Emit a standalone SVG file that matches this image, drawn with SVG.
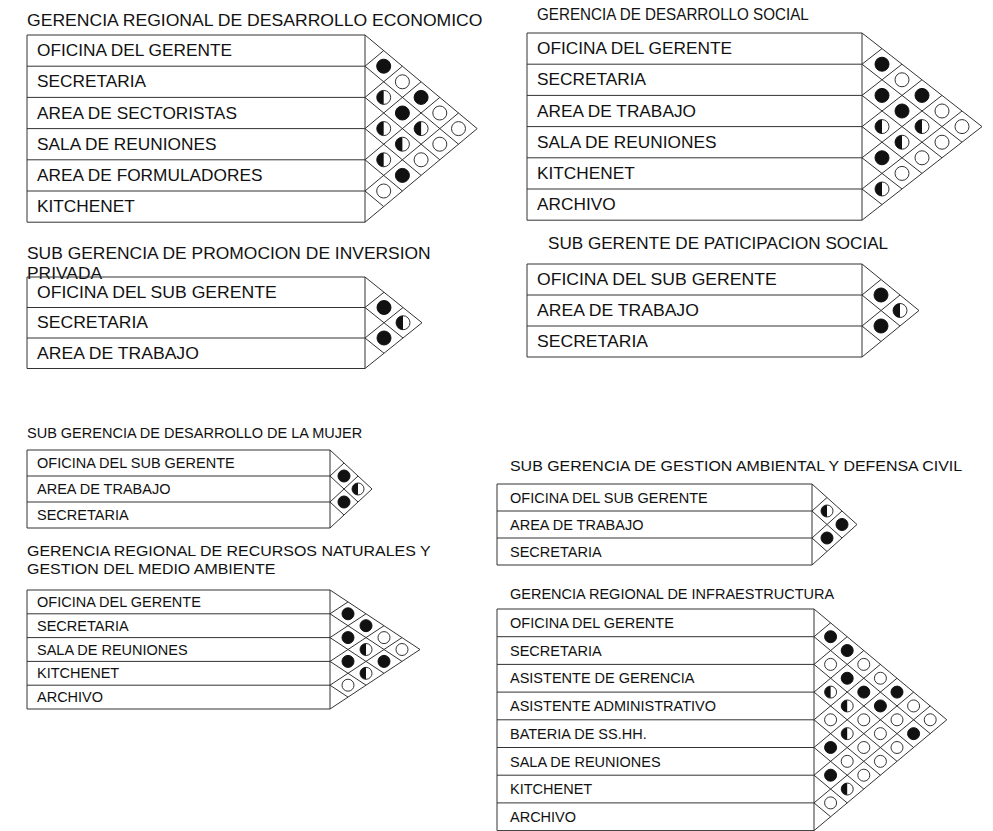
<svg xmlns="http://www.w3.org/2000/svg" width="993" height="831" viewBox="0 0 993 831">
<style>
.t{font-family:"Liberation Sans",Arial,sans-serif;fill:#111}
.big{font-size:16px}
.sm{font-size:14.5px}
.box{fill:none;stroke:#333;stroke-width:1}
.grid{fill:none;stroke:#333;stroke-width:1;vector-effect:non-scaling-stroke}
.f{fill:#111;stroke:#111;stroke-width:1;vector-effect:non-scaling-stroke}
.e{fill:#fff;stroke:#333;stroke-width:1;vector-effect:non-scaling-stroke}
.h{fill:#111;stroke:none}
</style>
<rect width="993" height="831" fill="#fff"/>

<g id="b1">
<text class="t big" x="27" y="26" transform="matrix(1.1,0,0,1,-2.7,0)">GERENCIA REGIONAL DE DESARROLLO ECONOMICO</text>
<path class="box" d="M27 35H365V222.2H27Z M27 66.2H365 M27 97.4H365 M27 128.6H365 M27 159.8H365 M27 191H365"/>
<g transform="matrix(1.08,0,0,1,-2.96,0)">
<text class="t big" x="37" y="56.2">OFICINA DEL GERENTE</text>
<text class="t big" x="37" y="87.4">SECRETARIA</text>
<text class="t big" x="37" y="118.6">AREA DE SECTORISTAS</text>
<text class="t big" x="37" y="149.8">SALA DE REUNIONES</text>
<text class="t big" x="37" y="181">AREA DE FORMULADORES</text>
<text class="t big" x="37" y="212.2">KITCHENET</text>
</g>
<g transform="translate(365,35) scale(18.7,15.6)">
<path class="grid" d="M0 0L6 6L0 12M0 2L5 7M0 2L1 1M0 4L4 8M0 4L2 2M0 6L3 9M0 6L3 3M0 8L2 10M0 8L4 4M0 10L1 11M0 10L5 5"/>
<ellipse class="f" cx="1" cy="2" rx=".374" ry=".449"/>
<ellipse class="f" cx="2" cy="5" rx=".374" ry=".449"/>
<ellipse class="f" cx="3" cy="4" rx=".374" ry=".449"/>
<ellipse class="f" cx="2" cy="9" rx=".374" ry=".449"/>
<ellipse class="e" cx="1" cy="4" rx=".374" ry=".449"/><path class="h" d="M1 3.551A.374 .449 0 0 0 1 4.449Z"/>
<ellipse class="e" cx="1" cy="6" rx=".374" ry=".449"/><path class="h" d="M1 5.551A.374 .449 0 0 0 1 6.449Z"/>
<ellipse class="e" cx="1" cy="8" rx=".374" ry=".449"/><path class="h" d="M1 7.551A.374 .449 0 0 0 1 8.449Z"/>
<ellipse class="e" cx="2" cy="7" rx=".374" ry=".449"/><path class="h" d="M2 6.551A.374 .449 0 0 0 2 7.449Z"/>
<ellipse class="e" cx="3" cy="6" rx=".374" ry=".449"/><path class="h" d="M3 5.551A.374 .449 0 0 0 3 6.449Z"/>
<ellipse class="e" cx="1" cy="10" rx=".374" ry=".449"/>
<ellipse class="e" cx="2" cy="3" rx=".374" ry=".449"/>
<ellipse class="e" cx="3" cy="8" rx=".374" ry=".449"/>
<ellipse class="e" cx="4" cy="5" rx=".374" ry=".449"/>
<ellipse class="e" cx="4" cy="7" rx=".374" ry=".449"/>
<ellipse class="e" cx="5" cy="6" rx=".374" ry=".449"/>
</g>
</g>

<g id="b2">
<text class="t big" x="537" y="20" transform="matrix(0.95,0,0,1,26.85,0)">GERENCIA DE DESARROLLO SOCIAL</text>
<path class="box" d="M527 33H862V220.2H527Z M527 64.2H862 M527 95.4H862 M527 126.6H862 M527 157.8H862 M527 189H862"/>
<g transform="matrix(1.08,0,0,1,-42.96,0)">
<text class="t big" x="537" y="54.2">OFICINA DEL GERENTE</text>
<text class="t big" x="537" y="85.4">SECRETARIA</text>
<text class="t big" x="537" y="116.6">AREA DE TRABAJO</text>
<text class="t big" x="537" y="147.8">SALA DE REUNIONES</text>
<text class="t big" x="537" y="179">KITCHENET</text>
<text class="t big" x="537" y="210.2">ARCHIVO</text>
</g>
<g transform="translate(862,33) scale(20,15.6)">
<path class="grid" d="M0 0L6 6L0 12M0 2L5 7M0 2L1 1M0 4L4 8M0 4L2 2M0 6L3 9M0 6L3 3M0 8L2 10M0 8L4 4M0 10L1 11M0 10L5 5"/>
<ellipse class="f" cx="1" cy="2" rx=".35" ry=".449"/>
<ellipse class="f" cx="1" cy="4" rx=".35" ry=".449"/>
<ellipse class="f" cx="1" cy="8" rx=".35" ry=".449"/>
<ellipse class="f" cx="2" cy="5" rx=".35" ry=".449"/>
<ellipse class="f" cx="3" cy="4" rx=".35" ry=".449"/>
<ellipse class="e" cx="1" cy="6" rx=".35" ry=".449"/><path class="h" d="M1 5.551A.35 .449 0 0 0 1 6.449Z"/>
<ellipse class="e" cx="1" cy="10" rx=".35" ry=".449"/><path class="h" d="M1 9.551A.35 .449 0 0 0 1 10.449Z"/>
<ellipse class="e" cx="2" cy="7" rx=".35" ry=".449"/><path class="h" d="M2 6.551A.35 .449 0 0 0 2 7.449Z"/>
<ellipse class="e" cx="3" cy="6" rx=".35" ry=".449"/><path class="h" d="M3 5.551A.35 .449 0 0 0 3 6.449Z"/>
<ellipse class="e" cx="2" cy="3" rx=".35" ry=".449"/>
<ellipse class="e" cx="2" cy="9" rx=".35" ry=".449"/>
<ellipse class="e" cx="3" cy="8" rx=".35" ry=".449"/>
<ellipse class="e" cx="4" cy="5" rx=".35" ry=".449"/>
<ellipse class="e" cx="4" cy="7" rx=".35" ry=".449"/>
<ellipse class="e" cx="5" cy="6" rx=".35" ry=".449"/>
</g>
</g>

<g id="b3">
<g transform="matrix(1.09,0,0,1,-2.43,0)">
<text class="t big" x="27" y="259">SUB GERENCIA DE PROMOCION DE INVERSION</text>
<text class="t big" x="27" y="279">PRIVADA</text>
</g>
<path class="box" d="M27 277H365V368.5H27Z M27 307.5H365 M27 338H365"/>
<g transform="matrix(1.1,0,0,1,-3.7,0)">
<text class="t big" x="37" y="297.9">OFICINA DEL SUB GERENTE</text>
<text class="t big" x="37" y="328.4">SECRETARIA</text>
<text class="t big" x="37" y="358.9">AREA DE TRABAJO</text>
</g>
<g transform="translate(365,277) scale(19,15.25)">
<path class="grid" d="M0 0L3 3L0 6M0 2L2 4M0 2L1 1M0 4L1 5M0 4L2 2"/>
<ellipse class="f" cx="1" cy="2" rx=".368" ry=".459"/>
<ellipse class="f" cx="1" cy="4" rx=".368" ry=".459"/>
<ellipse class="e" cx="2" cy="3" rx=".368" ry=".459"/><path class="h" d="M2 2.541A.368 .459 0 0 0 2 3.459Z"/>
</g>
</g>

<g id="b4">
<text class="t big" x="548" y="249" transform="matrix(1.07,0,0,1,-38.36,0)">SUB GERENTE DE PATICIPACION SOCIAL</text>
<path class="box" d="M527 264H862V357H527Z M527 295H862 M527 326H862"/>
<g transform="matrix(1.1,0,0,1,-53.7,0)">
<text class="t big" x="537" y="285.1">OFICINA DEL SUB GERENTE</text>
<text class="t big" x="537" y="316.1">AREA DE TRABAJO</text>
<text class="t big" x="537" y="347.1">SECRETARIA</text>
</g>
<g transform="translate(862,264) scale(19,15.5)">
<path class="grid" d="M0 0L3 3L0 6M0 2L2 4M0 2L1 1M0 4L1 5M0 4L2 2"/>
<ellipse class="f" cx="1" cy="2" rx=".368" ry=".452"/>
<ellipse class="f" cx="1" cy="4" rx=".368" ry=".452"/>
<ellipse class="e" cx="2" cy="3" rx=".368" ry=".452"/><path class="h" d="M2 2.548A.368 .452 0 0 0 2 3.452Z"/>
</g>
</g>

<g id="b5">
<text class="t sm" x="27" y="438">SUB GERENCIA DE DESARROLLO DE LA MUJER</text>
<path class="box" d="M27 450H330V528H27Z M27 476H330 M27 502H330"/>
<text class="t sm" x="37" y="468.1">OFICINA DEL SUB GERENTE</text>
<text class="t sm" x="37" y="494.1">AREA DE TRABAJO</text>
<text class="t sm" x="37" y="520.1">SECRETARIA</text>
<g transform="translate(330,450) scale(14,13)">
<path class="grid" d="M0 0L3 3L0 6M0 2L2 4M0 2L1 1M0 4L1 5M0 4L2 2"/>
<ellipse class="f" cx="1" cy="2" rx=".429" ry=".462"/>
<ellipse class="f" cx="1" cy="4" rx=".429" ry=".462"/>
<ellipse class="e" cx="2" cy="3" rx=".429" ry=".462"/><path class="h" d="M2 2.538A.429 .462 0 0 0 2 3.462Z"/>
</g>
</g>

<g id="b6">
<text class="t sm" x="510" y="471" transform="matrix(1.1,0,0,1,-51,0)">SUB GERENCIA DE GESTION AMBIENTAL Y DEFENSA CIVIL</text>
<path class="box" d="M497 484H812V565H497Z M497 511H812 M497 538H812"/>
<text class="t sm" x="510" y="502.6">OFICINA DEL SUB GERENTE</text>
<text class="t sm" x="510" y="529.6">AREA DE TRABAJO</text>
<text class="t sm" x="510" y="556.6">SECRETARIA</text>
<g transform="translate(812,484) scale(15,13.5)">
<path class="grid" d="M0 0L3 3L0 6M0 2L2 4M0 2L1 1M0 4L1 5M0 4L2 2"/>
<ellipse class="e" cx="1" cy="2" rx=".4" ry=".444"/><path class="h" d="M1 1.556A.4 .444 0 0 0 1 2.444Z"/>
<ellipse class="f" cx="1" cy="4" rx=".4" ry=".444"/>
<ellipse class="f" cx="2" cy="3" rx=".4" ry=".444"/>
</g>
</g>

<g id="b7">
<g transform="matrix(1.1,0,0,1,-2.7,0)">
<text class="t sm" x="27" y="556">GERENCIA REGIONAL DE RECURSOS NATURALES Y</text>
<text class="t sm" x="27" y="574">GESTION DEL MEDIO AMBIENTE</text>
</g>
<path class="box" d="M27 590H330V709H27Z M27 613.8H330 M27 637.6H330 M27 661.4H330 M27 685.2H330"/>
<text class="t sm" x="37" y="607">OFICINA DEL GERENTE</text>
<text class="t sm" x="37" y="630.8">SECRETARIA</text>
<text class="t sm" x="37" y="654.6">SALA DE REUNIONES</text>
<text class="t sm" x="37" y="678.4">KITCHENET</text>
<text class="t sm" x="37" y="702.2">ARCHIVO</text>
<g transform="translate(330,590) scale(18,11.9)">
<path class="grid" d="M0 0L5 5L0 10M0 2L4 6M0 2L1 1M0 4L3 7M0 4L2 2M0 6L2 8M0 6L3 3M0 8L1 9M0 8L4 4"/>
<ellipse class="f" cx="1" cy="2" rx=".333" ry=".504"/>
<ellipse class="f" cx="1" cy="4" rx=".333" ry=".504"/>
<ellipse class="f" cx="1" cy="6" rx=".333" ry=".504"/>
<ellipse class="f" cx="2" cy="3" rx=".333" ry=".504"/>
<ellipse class="f" cx="3" cy="6" rx=".333" ry=".504"/>
<ellipse class="e" cx="2" cy="5" rx=".333" ry=".504"/><path class="h" d="M2 4.496A.333 .504 0 0 0 2 5.504Z"/>
<ellipse class="e" cx="2" cy="7" rx=".333" ry=".504"/><path class="h" d="M2 6.496A.333 .504 0 0 0 2 7.504Z"/>
<ellipse class="e" cx="1" cy="8" rx=".333" ry=".504"/>
<ellipse class="e" cx="3" cy="4" rx=".333" ry=".504"/>
<ellipse class="e" cx="4" cy="5" rx=".333" ry=".504"/>
</g>
</g>

<g id="b8">
<text class="t sm" x="510" y="599">GERENCIA REGIONAL DE INFRAESTRUCTURA</text>
<path class="box" d="M497 609H814V830.6H497Z M497 636.7H814 M497 664.4H814 M497 692.1H814 M497 719.8H814 M497 747.5H814 M497 775.2H814 M497 802.9H814"/>
<text class="t sm" x="510" y="628">OFICINA DEL GERENTE</text>
<text class="t sm" x="510" y="655.7">SECRETARIA</text>
<text class="t sm" x="510" y="683.4">ASISTENTE DE GERENCIA</text>
<text class="t sm" x="510" y="711.1">ASISTENTE ADMINISTRATIVO</text>
<text class="t sm" x="510" y="738.8">BATERIA DE SS.HH.</text>
<text class="t sm" x="510" y="766.5">SALA DE REUNIONES</text>
<text class="t sm" x="510" y="794.2">KITCHENET</text>
<text class="t sm" x="510" y="821.9">ARCHIVO</text>
<g transform="translate(814,609) scale(16.6,13.85)">
<path class="grid" d="M0 0L8 8L0 16M0 2L7 9M0 2L1 1M0 4L6 10M0 4L2 2M0 6L5 11M0 6L3 3M0 8L4 12M0 8L4 4M0 10L3 13M0 10L5 5M0 12L2 14M0 12L6 6M0 14L1 15M0 14L7 7"/>
<ellipse class="f" cx="1" cy="2" rx=".361" ry=".433"/>
<ellipse class="f" cx="1" cy="10" rx=".361" ry=".433"/>
<ellipse class="f" cx="1" cy="12" rx=".361" ry=".433"/>
<ellipse class="f" cx="2" cy="3" rx=".361" ry=".433"/>
<ellipse class="f" cx="2" cy="5" rx=".361" ry=".433"/>
<ellipse class="f" cx="3" cy="6" rx=".361" ry=".433"/>
<ellipse class="f" cx="4" cy="7" rx=".361" ry=".433"/>
<ellipse class="f" cx="5" cy="6" rx=".361" ry=".433"/>
<ellipse class="f" cx="6" cy="9" rx=".361" ry=".433"/>
<ellipse class="e" cx="1" cy="6" rx=".361" ry=".433"/><path class="h" d="M1 5.567A.361 .433 0 0 0 1 6.433Z"/>
<ellipse class="e" cx="2" cy="7" rx=".361" ry=".433"/><path class="h" d="M2 6.567A.361 .433 0 0 0 2 7.433Z"/>
<ellipse class="e" cx="2" cy="9" rx=".361" ry=".433"/><path class="h" d="M2 8.567A.361 .433 0 0 0 2 9.433Z"/>
<ellipse class="e" cx="2" cy="13" rx=".361" ry=".433"/><path class="h" d="M2 12.567A.361 .433 0 0 0 2 13.433Z"/>
<ellipse class="e" cx="1" cy="4" rx=".361" ry=".433"/>
<ellipse class="e" cx="1" cy="8" rx=".361" ry=".433"/>
<ellipse class="e" cx="1" cy="14" rx=".361" ry=".433"/>
<ellipse class="e" cx="2" cy="11" rx=".361" ry=".433"/>
<ellipse class="e" cx="3" cy="4" rx=".361" ry=".433"/>
<ellipse class="e" cx="3" cy="8" rx=".361" ry=".433"/>
<ellipse class="e" cx="3" cy="10" rx=".361" ry=".433"/>
<ellipse class="e" cx="3" cy="12" rx=".361" ry=".433"/>
<ellipse class="e" cx="4" cy="5" rx=".361" ry=".433"/>
<ellipse class="e" cx="4" cy="9" rx=".361" ry=".433"/>
<ellipse class="e" cx="4" cy="11" rx=".361" ry=".433"/>
<ellipse class="e" cx="5" cy="8" rx=".361" ry=".433"/>
<ellipse class="e" cx="5" cy="10" rx=".361" ry=".433"/>
<ellipse class="e" cx="6" cy="7" rx=".361" ry=".433"/>
<ellipse class="e" cx="7" cy="8" rx=".361" ry=".433"/>
</g>
</g>

<g id="connectors"></g>
</svg>
